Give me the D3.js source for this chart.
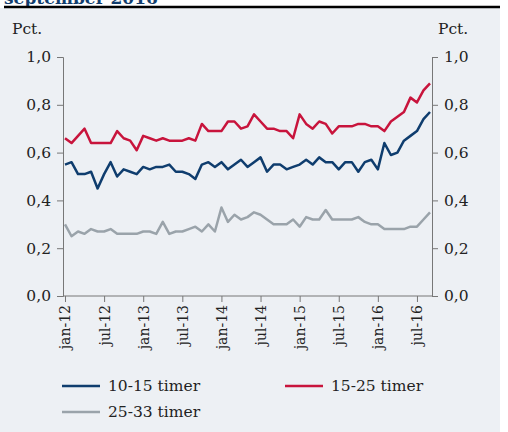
<!DOCTYPE html>
<html><head><meta charset="utf-8">
<script src="https://cdn.jsdelivr.net/npm/d3@7"></script>
<style>
body{margin:0;background:#fff;}
text{font-family:"DejaVu Serif",serif;fill:#222;}
</style></head>
<body><div id="chart"></div>
<script>
// monthly data, jan-12 .. sep-16
const s1015 = [0.55,0.56,0.51,0.51,0.52,0.45,0.51,0.56,0.50,0.53,0.52,0.51,0.54,0.53,0.54,0.54,0.55,0.52,0.52,0.51,0.49,0.55,0.56,0.54,0.56,0.53,0.55,0.57,0.54,0.56,0.58,0.52,0.55,0.55,0.53,0.54,0.55,0.57,0.55,0.58,0.56,0.56,0.53,0.56,0.56,0.52,0.56,0.57,0.53,0.64,0.59,0.60,0.65,0.67,0.69,0.74,0.77];
const s1525 = [0.66,0.64,0.67,0.70,0.64,0.64,0.64,0.64,0.69,0.66,0.65,0.61,0.67,0.66,0.65,0.66,0.65,0.65,0.65,0.66,0.65,0.72,0.69,0.69,0.69,0.73,0.73,0.70,0.71,0.76,0.73,0.70,0.70,0.69,0.69,0.66,0.76,0.72,0.70,0.73,0.72,0.68,0.71,0.71,0.71,0.72,0.72,0.71,0.71,0.69,0.73,0.75,0.77,0.83,0.81,0.86,0.89];
const s2533 = [0.30,0.25,0.27,0.26,0.28,0.27,0.27,0.28,0.26,0.26,0.26,0.26,0.27,0.27,0.26,0.31,0.26,0.27,0.27,0.28,0.29,0.27,0.30,0.27,0.37,0.31,0.34,0.32,0.33,0.35,0.34,0.32,0.30,0.30,0.30,0.32,0.29,0.33,0.32,0.32,0.36,0.32,0.32,0.32,0.32,0.33,0.31,0.30,0.30,0.28,0.28,0.28,0.28,0.29,0.29,0.32,0.35];
const yTicks = [0, 0.2, 0.4, 0.6, 0.8, 1.0];
const xTickLabels = ["jan-12","jul-12","jan-13","jul-13","jan-14","jul-14","jan-15","jul-15","jan-16","jul-16"];
const seriesNames = ["10-15 timer","15-25 timer","25-33 timer"];
const colors = ["#0f3d6e","#c8143c","#9aa3aa"];

const W = 508, H = 432;
const m = {left:63, right:76, top:57, bottom:136};
const svg = d3.select('#chart').append('svg').attr('width', W).attr('height', H);

// panel and truncated heading
svg.append('rect').attr('x', 0).attr('y', 8).attr('width', 500).attr('height', H - 8).attr('fill', '#edf0f4');
svg.append('text').attr('x', 4).attr('y', 4).attr('font-size', 17).attr('font-weight', 'bold')
  .style('fill', '#123e6e').text('september 2016');
svg.append('line').attr('x1', 4).attr('x2', 500).attr('y1', 7).attr('y2', 7)
  .attr('stroke', '#000').attr('stroke-width', 2.5);

const x = d3.scaleLinear().domain([0, s1015.length - 1]).range([m.left + 2, W - m.right - 2]);
const y = d3.scaleLinear().domain([0, 1]).range([H - m.bottom, m.top]);
const g = svg.append('g');

const fmt = d => d3.format('.1f')(d).replace('.', ',');
const axisStyle = sel => {
  sel.selectAll('path,line').attr('stroke', '#777');
  sel.selectAll('text').attr('font-size', 15.5).style('fill', '#222');
};
g.append('g').attr('transform', `translate(${m.left},0)`)
  .call(d3.axisLeft(y).tickValues(yTicks).tickFormat(fmt).tickSize(6).tickSizeOuter(6).tickPadding(6))
  .call(axisStyle);
g.append('g').attr('transform', `translate(${W - m.right},0)`)
  .call(d3.axisRight(y).tickValues(yTicks).tickFormat(fmt).tickSize(6).tickSizeOuter(6).tickPadding(6))
  .call(axisStyle);

// x axis: month index, labels every 6 months
const xAxis = d3.axisBottom(x).tickValues(xTickLabels.map((_, i) => i * 6))
  .tickFormat((d, i) => xTickLabels[i]).tickSize(6).tickSizeOuter(0);
const xg = g.append('g').attr('transform', `translate(0,${H - m.bottom})`).call(xAxis).call(axisStyle);
xg.select('.domain').attr('d', `M${m.left},0H${W - m.right}`);
xg.selectAll('.tick text').attr('font-size', 14).attr('transform', 'rotate(-90)').attr('text-anchor', 'end')
  .attr('x', -9).attr('y', 0).attr('dy', '0.35em');

const line = d3.line().x((d, i) => x(i)).y(d => y(d));
[s2533, s1525, s1015].forEach((s, k) => {
  g.append('path').attr('d', line(s)).attr('fill', 'none')
    .attr('stroke', colors[2 - k]).attr('stroke-width', 2.5).attr('stroke-linejoin', 'round');
});

svg.append('text').attr('x', 12).attr('y', 34).attr('font-size', 15.5).text('Pct.');
svg.append('text').attr('x', 438).attr('y', 34).attr('font-size', 15.5).text('Pct.');

// legend
const legPos = [[62, 391], [285, 391], [62, 417]];
seriesNames.forEach((n, i) => {
  const [lx, ly] = legPos[i];
  svg.append('line').attr('x1', lx).attr('x2', lx + 38).attr('y1', ly - 5).attr('y2', ly - 5)
    .attr('stroke', colors[i]).attr('stroke-width', 2.5);
  svg.append('text').attr('x', lx + 46).attr('y', ly).attr('font-size', 15.5).text(n);
});
</script></body></html>
